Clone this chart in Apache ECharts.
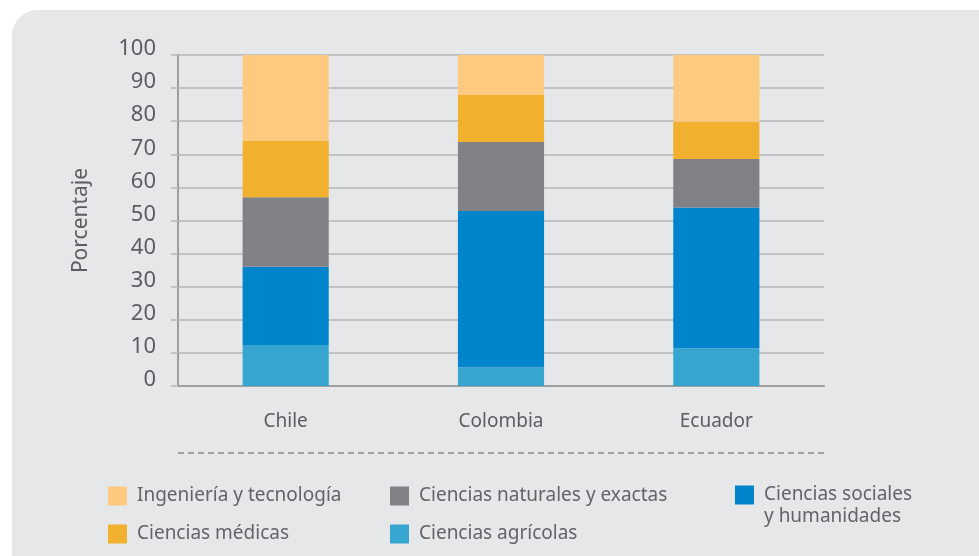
<!DOCTYPE html>
<html>
<head>
<meta charset="utf-8">
<script src="https://cdn.jsdelivr.net/npm/echarts@6/dist/echarts.min.js"></script>
<style>
  html, body { margin: 0; padding: 0; background: #ffffff; }
  #chart { width: 979px; height: 556px; }
</style>
</head>
<body>
<div id="chart"></div>
<script>
const countries = ['Chile', 'Colombia', 'Ecuador'];
const yTicks = [0, 10, 20, 30, 40, 50, 60, 70, 80, 90, 100];

// valores en porcentaje, de abajo hacia arriba en la pila
const agricolas = [12.4, 5.7, 11.4];
const sociales = [23.6, 47.2, 42.5];
const naturales = [21.0, 20.8, 14.7];
const medicas = [17.0, 14.2, 11.2];
const ingenieria = [26.0, 12.1, 20.2];

const FONT = '"Noto Sans", sans-serif';
const TXT = '#5c5d60';

const chart = echarts.init(document.getElementById('chart'));

function bar(name, data, color) {
    return {
        name: name,
        type: 'bar',
        stack: 'total',
        barWidth: '40%',
        data: data,
        itemStyle: { color: color },
        emphasis: { disabled: true }
    };
}

function legendAt(name, left, top, extraLine) {
    return {
        data: [name],
        left: left,
        top: top,
        padding: 0,
        icon: 'rect',
        itemWidth: 19,
        itemHeight: 19,
        itemGap: 0,
        // blank first line keeps the square level with the first text line
        formatter: extraLine ? '\n{name}' : '{name}',
        textStyle: {
            fontFamily: FONT, fontSize: 19, color: '#636467',
            lineHeight: 22, padding: [0, 0, 0, 5]
        },
        selectedMode: false
    };
}

const option = {
    animation: false,
    graphic: [
        {
            type: 'rect',
            z: -10,
            silent: true,
            shape: { x: 12, y: 10, width: 1020, height: 600, r: 26 },
            style: { fill: '#e6e7e9' }
        },
        {
            type: 'line',
            silent: true,
            shape: { x1: 178, y1: 453, x2: 824, y2: 453 },
            style: { stroke: '#8a8b8d', lineWidth: 1.5, lineDash: [6, 4] }
        }
    ],
    grid: { left: 178, right: 155, top: 55, bottom: 170 },
    legend: [
        legendAt('Ingeniería y tecnología', 108, 485),
        legendAt('Ciencias naturales y exactas', 390, 485),
        legendAt('Ciencias sociales\ny humanidades', 735, 462, true),
        legendAt('Ciencias médicas', 108, 523),
        legendAt('Ciencias agrícolas', 390, 523)
    ],
    xAxis: {
        type: 'category',
        data: countries,
        axisLine: { lineStyle: { color: '#9d9ea0', width: 2 } },
        axisTick: { length: 6, lineStyle: { color: '#9d9ea0', width: 2 } },
        axisLabel: { fontFamily: FONT, fontSize: 19, color: TXT, margin: 26 }
    },
    yAxis: {
        type: 'value',
        min: 0,
        max: 100,
        interval: 10,
        name: 'Porcentaje',
        nameLocation: 'middle',
        nameRotate: 90,
        nameGap: 86,
        nameTextStyle: { fontFamily: FONT, fontSize: 21, color: TXT },
        axisLine: { show: true, lineStyle: { color: '#9d9ea0', width: 2 } },
        axisTick: { show: true, length: 7, lineStyle: { color: '#c1c2c4', width: 2 } },
        splitLine: { lineStyle: { color: '#c1c2c4', width: 2 } },
        axisLabel: {
            fontFamily: FONT, fontSize: 22, color: TXT, margin: 22,
            verticalAlign: 'bottom', lineHeight: 12,
            formatter: function (v) { return yTicks.indexOf(v) >= 0 ? String(v) : ''; }
        }
    },
    series: [
        bar('Ciencias agrícolas', agricolas, '#36a6d0'),
        bar('Ciencias sociales\ny humanidades', sociales, '#0084cc'),
        bar('Ciencias naturales y exactas', naturales, '#808184'),
        bar('Ciencias médicas', medicas, '#f2b02f'),
        bar('Ingeniería y tecnología', ingenieria, '#fdca80')
    ]
};

chart.setOption(option);
window.addEventListener('resize', () => chart.resize());
</script>
</body>
</html>
